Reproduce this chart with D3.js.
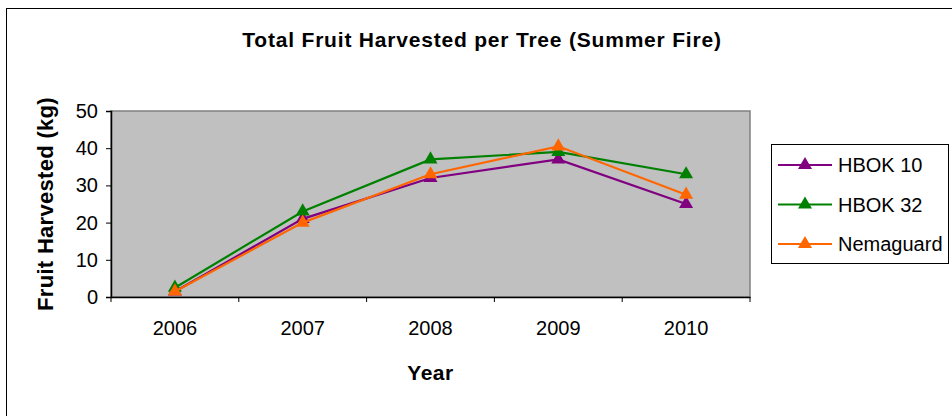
<!DOCTYPE html>
<meta charset="utf-8">
<script src="https://d3js.org/d3.v7.min.js"></script>
<style>
  body { margin: 0; background: #fff; }
  text { font-family: "Liberation Sans", Arial, sans-serif; fill: #000; }
</style>
<div id="chart"></div>
<script>
  // data
  const years = ["2006", "2007", "2008", "2009", "2010"];
  const hbok10 = [1.5, 21, 32, 37, 25];
  const hbok32 = [2.5, 23, 37, 39, 33];
  const nemaguard = [1.5, 20, 33, 40.5, 27.5];
  const seriesNames = ["HBOK 10", "HBOK 32", "Nemaguard"];
  const seriesColors = ["#800080", "#008000", "#FF6600"];
  const yTicks = [0, 10, 20, 30, 40, 50];

  const width = 952, height = 416;
  const plot = { left: 111, right: 750, top: 111, bottom: 297 };

  const svg = d3.select("#chart")
    .append("svg")
    .attr("width", width)
    .attr("height", height);

  // outer chart border (runs off the right and bottom edge)
  svg.append("rect")
    .attr("x", 6.5).attr("y", 8.5)
    .attr("width", 980).attr("height", 440)
    .attr("fill", "none")
    .attr("stroke", "#000")
    .attr("stroke-width", 1);

  const x = d3.scaleBand()
    .domain(years)
    .range([plot.left, plot.right]);

  const y = d3.scaleLinear()
    .domain([0, 50])
    .range([plot.bottom, plot.top]);

  // plot area
  svg.append("rect")
    .attr("x", plot.left).attr("y", plot.top)
    .attr("width", plot.right - plot.left)
    .attr("height", plot.bottom - plot.top)
    .attr("fill", "#C0C0C0")
    .attr("stroke", "#808080")
    .attr("stroke-width", 1.5);

  // y axis
  const yAxis = svg.append("g")
    .attr("transform", `translate(${plot.left},0)`)
    .call(d3.axisLeft(y).tickValues(yTicks).tickSize(5).tickPadding(8).tickFormat(d3.format("d")));
  yAxis.select(".domain").attr("stroke", "#000").attr("stroke-width", 1.5);
  yAxis.selectAll(".tick line").attr("stroke", "#000");
  yAxis.selectAll(".tick text")
    .style("font-size", "20px")
    .attr("font-family", null);

  // x axis
  const xAxis = svg.append("g")
    .attr("transform", `translate(0,${plot.bottom})`)
    .call(d3.axisBottom(x).tickSize(0).tickPadding(24));
  xAxis.select(".domain").attr("stroke", "#000").attr("stroke-width", 1.5);
  xAxis.selectAll(".tick text")
    .style("font-size", "20px")
    .attr("font-family", null);
  // tick marks between categories
  xAxis.selectAll(".sep")
    .data(d3.range(years.length + 1))
    .join("line")
    .attr("class", "sep")
    .attr("x1", i => plot.left + i * x.step())
    .attr("x2", i => plot.left + i * x.step())
    .attr("y1", 0).attr("y2", 5)
    .attr("stroke", "#000");

  // lines and triangle markers
  const allSeries = [hbok10, hbok32, nemaguard];
  const line = d3.line()
    .x((d, i) => x(years[i]) + x.bandwidth() / 2)
    .y(d => y(d));
  const tri = d3.symbol().type(d3.symbolTriangle).size(85);

  allSeries.forEach((vals, s) => {
    svg.append("path")
      .datum(vals)
      .attr("d", line)
      .attr("fill", "none")
      .attr("stroke", seriesColors[s])
      .attr("stroke-width", 2.2);
    svg.selectAll(".m" + s)
      .data(vals)
      .join("path")
      .attr("class", "m" + s)
      .attr("d", tri)
      .attr("transform", (d, i) => `translate(${x(years[i]) + x.bandwidth() / 2},${y(d)})`)
      .attr("fill", seriesColors[s]);
  });

  // title and axis titles
  svg.append("text")
    .attr("x", 482).attr("y", 47)
    .attr("text-anchor", "middle")
    .style("font-size", "21px")
    .style("font-weight", "bold")
    .style("letter-spacing", "0.8px")
    .text("Total Fruit Harvested per Tree (Summer Fire)");

  svg.append("text")
    .attr("x", (plot.left + plot.right) / 2).attr("y", 380)
    .attr("text-anchor", "middle")
    .style("font-size", "21px")
    .style("font-weight", "bold")
    .style("letter-spacing", "0.5px")
    .text("Year");

  svg.append("text")
    .attr("transform", `translate(53,${(plot.top + plot.bottom) / 2}) rotate(-90)`)
    .attr("text-anchor", "middle")
    .style("font-size", "22px")
    .style("font-weight", "bold")
    .style("letter-spacing", "0.3px")
    .text("Fruit Harvested (kg)");

  // legend
  const legend = svg.append("g");
  legend.append("rect")
    .attr("x", 771.5).attr("y", 144.5)
    .attr("width", 177).attr("height", 119)
    .attr("fill", "#fff")
    .attr("stroke", "#000");
  const item = legend.selectAll(".item")
    .data(seriesNames)
    .join("g")
    .attr("class", "item")
    .attr("transform", (d, i) => `translate(0,${165 + i * 39.5})`);
  item.append("line")
    .attr("x1", 778).attr("x2", 832)
    .attr("stroke", (d, i) => seriesColors[i])
    .attr("stroke-width", 2.2);
  item.append("path")
    .attr("d", tri)
    .attr("transform", "translate(805,0)")
    .attr("fill", (d, i) => seriesColors[i]);
  item.append("text")
    .attr("x", 838).attr("y", 7)
    .style("font-size", "20px")
    .text(d => d);
</script>
